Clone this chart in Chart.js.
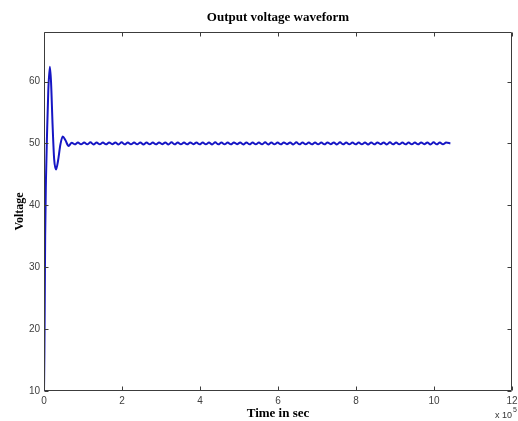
<!DOCTYPE html>
<html>
<head>
<meta charset="utf-8">
<title>Output voltage waveform</title>
<style>
  html, body { margin: 0; padding: 0; background: #fff; }
  #wrap { width: 518px; height: 421px; }
</style>
</head>
<body>
<div id="wrap"><canvas id="voltChart" width="518" height="421"></canvas></div>
<script src="https://cdn.jsdelivr.net/npm/chart.js@4.4.1/dist/chart.umd.min.js"></script>
<script>
/* ========== Data (time in units of 10^5 s) ========== */
const timeSec = [
  0, 0.01, 0.02, 0.03, 0.05, 0.08, 0.11, 0.15, 0.18, 0.22, 0.26, 0.31, 0.36, 0.42, 0.48, 0.55, 0.63, 0.71,
  0.79, 0.87, 0.95, 1.03, 1.11, 1.19, 1.27, 1.35, 1.43, 1.51,
  1.59, 1.67, 1.75, 1.83, 1.91, 1.99, 2.07, 2.15, 2.23, 2.31,
  2.39, 2.47, 2.55, 2.63, 2.71, 2.79, 2.87, 2.95, 3.03, 3.11,
  3.19, 3.27, 3.35, 3.43, 3.51, 3.59, 3.67, 3.75, 3.83, 3.91,
  3.99, 4.07, 4.15, 4.23, 4.31, 4.39, 4.47, 4.55, 4.63, 4.71,
  4.79, 4.87, 4.95, 5.03, 5.11, 5.19, 5.27, 5.35, 5.43, 5.51,
  5.59, 5.67, 5.75, 5.83, 5.91, 5.99, 6.07, 6.15, 6.23, 6.31,
  6.39, 6.47, 6.55, 6.63, 6.71, 6.79, 6.87, 6.95, 7.03, 7.11,
  7.19, 7.27, 7.35, 7.43, 7.51, 7.59, 7.67, 7.75, 7.83, 7.91,
  7.99, 8.07, 8.15, 8.23, 8.31, 8.39, 8.47, 8.55, 8.63, 8.71,
  8.79, 8.87, 8.95, 9.03, 9.11, 9.19, 9.27, 9.35, 9.43, 9.51,
  9.59, 9.67, 9.75, 9.83, 9.91, 9.99, 10.07, 10.15, 10.23, 10.31,
  10.42
];
const voltage = [
  10, 16, 25, 35, 44, 52, 58.5, 62.4, 60, 53, 47.5, 45.8, 47.2, 49.8, 51.1, 50.5, 49.6, 50.1,
  49.85, 50.15, 49.86, 50.14, 49.85, 50.17, 49.83, 50.15, 49.86, 50.14,
  49.85, 50.15, 49.87, 50.13, 49.83, 50.17, 49.85, 50.15, 49.86, 50.14,
  49.85, 50.16, 49.84, 50.15, 49.86, 50.14, 49.85, 50.15, 49.87, 50.13,
  49.83, 50.17, 49.85, 50.15, 49.86, 50.14, 49.85, 50.15, 49.87, 50.13,
  49.85, 50.15, 49.86, 50.14, 49.83, 50.17, 49.85, 50.15, 49.86, 50.14,
  49.85, 50.15, 49.87, 50.13, 49.84, 50.16, 49.85, 50.15, 49.86, 50.14,
  49.85, 50.17, 49.83, 50.15, 49.86, 50.14, 49.85, 50.15, 49.87, 50.13,
  49.83, 50.17, 49.85, 50.15, 49.86, 50.14, 49.85, 50.15, 49.86, 50.14,
  49.85, 50.15, 49.87, 50.13, 49.83, 50.17, 49.85, 50.15, 49.86, 50.14,
  49.85, 50.15, 49.86, 50.14, 49.84, 50.16, 49.85, 50.15, 49.87, 50.13,
  49.83, 50.17, 49.85, 50.15, 49.86, 50.14, 49.85, 50.15, 49.86, 50.14,
  49.85, 50.15, 49.87, 50.13, 49.83, 50.17, 49.85, 50.15, 49.86, 50.14,
  50.0
];
const xTicks = [0, 2, 4, 6, 8, 10, 12];
const yTicks = [10, 20, 30, 40, 50, 60];

/* ========== Matlab-style box with inward ticks ========== */
const frameTicks = {
  id: 'frameTicks',
  afterDatasetsDraw(chart) {
    const { ctx, chartArea: a, scales: { x, y } } = chart;
    const L = a.left + 0.5, R = a.right - 0.5, T = a.top + 0.5, B = a.bottom - 0.5;
    ctx.save();
    ctx.strokeStyle = '#3c3c3c';
    ctx.lineWidth = 1;
    ctx.beginPath();
    ctx.rect(L, T, R - L, B - T);
    xTicks.forEach(v => {
      const px = Math.round(x.getPixelForValue(v)) + 0.5;
      ctx.moveTo(px, B); ctx.lineTo(px, B - 4);
      ctx.moveTo(px, T); ctx.lineTo(px, T + 4);
    });
    yTicks.forEach(v => {
      const py = Math.round(y.getPixelForValue(v)) + 0.5;
      ctx.moveTo(L, py); ctx.lineTo(L + 4, py);
      ctx.moveTo(R, py); ctx.lineTo(R - 4, py);
    });
    ctx.stroke();

    // exponent label
    ctx.fillStyle = '#333';
    ctx.textBaseline = 'alphabetic';
    ctx.font = '9px "Liberation Sans", Arial, sans-serif';
    ctx.fillText('x 10', 495, 418);
    ctx.font = '7px "Liberation Sans", Arial, sans-serif';
    ctx.fillText('5', 513, 412);
    ctx.restore();
  }
};

/* ========== Chart ========== */
const tickFont = { family: '"Liberation Sans", Arial, sans-serif', size: 10 };
const labelFont = { family: '"Liberation Serif", "Times New Roman", serif', weight: 'bold' };

new Chart(document.getElementById('voltChart'), {
  type: 'line',
  data: {
    datasets: [{
      data: timeSec.map((t, i) => ({ x: t, y: voltage[i] })),
      borderColor: '#1616c4',
      borderWidth: 2,
      pointRadius: 0,
      cubicInterpolationMode: 'monotone',
      fill: false
    }]
  },
  options: {
    responsive: false,
    animation: false,
    devicePixelRatio: 1,
    layout: { padding: { left: 0, right: 6, top: 0, bottom: 0 } },
    plugins: {
      legend: { display: false },
      tooltip: { enabled: false },
      title: {
        display: true,
        fullSize: false,
        text: 'Output voltage waveform',
        color: '#000',
        font: { ...labelFont, size: 13 },
        padding: { top: 10, bottom: 6.4 }
      }
    },
    scales: {
      x: {
        type: 'linear',
        min: 0,
        max: 12,
        afterFit: s => { s.height = 30; s.paddingLeft = 0; s.paddingRight = 0; },
        grid: { display: false, drawTicks: false },
        border: { display: false },
        ticks: {
          stepSize: 2,
          autoSkip: false,
          maxRotation: 0,
          padding: 4,
          color: '#404040',
          font: tickFont
        },
        title: {
          display: true,
          text: 'Time in sec',
          color: '#000',
          font: { ...labelFont, size: 13 },
          padding: { top: 0, bottom: 0 }
        }
      },
      y: {
        type: 'linear',
        min: 10,
        max: 68,
        afterFit: s => { s.width = 44; s.paddingTop = 0; s.paddingBottom = 0; },
        grid: { display: false, drawTicks: false },
        border: { display: false },
        ticks: {
          stepSize: 10,
          includeBounds: false,
          padding: 4,
          color: '#404040',
          font: tickFont
        },
        title: {
          display: true,
          text: 'Voltage',
          color: '#000',
          font: { ...labelFont, size: 12 },
          padding: { top: 13, bottom: 0 }
        }
      }
    }
  },
  plugins: [frameTicks]
});
</script>
</body>
</html>
